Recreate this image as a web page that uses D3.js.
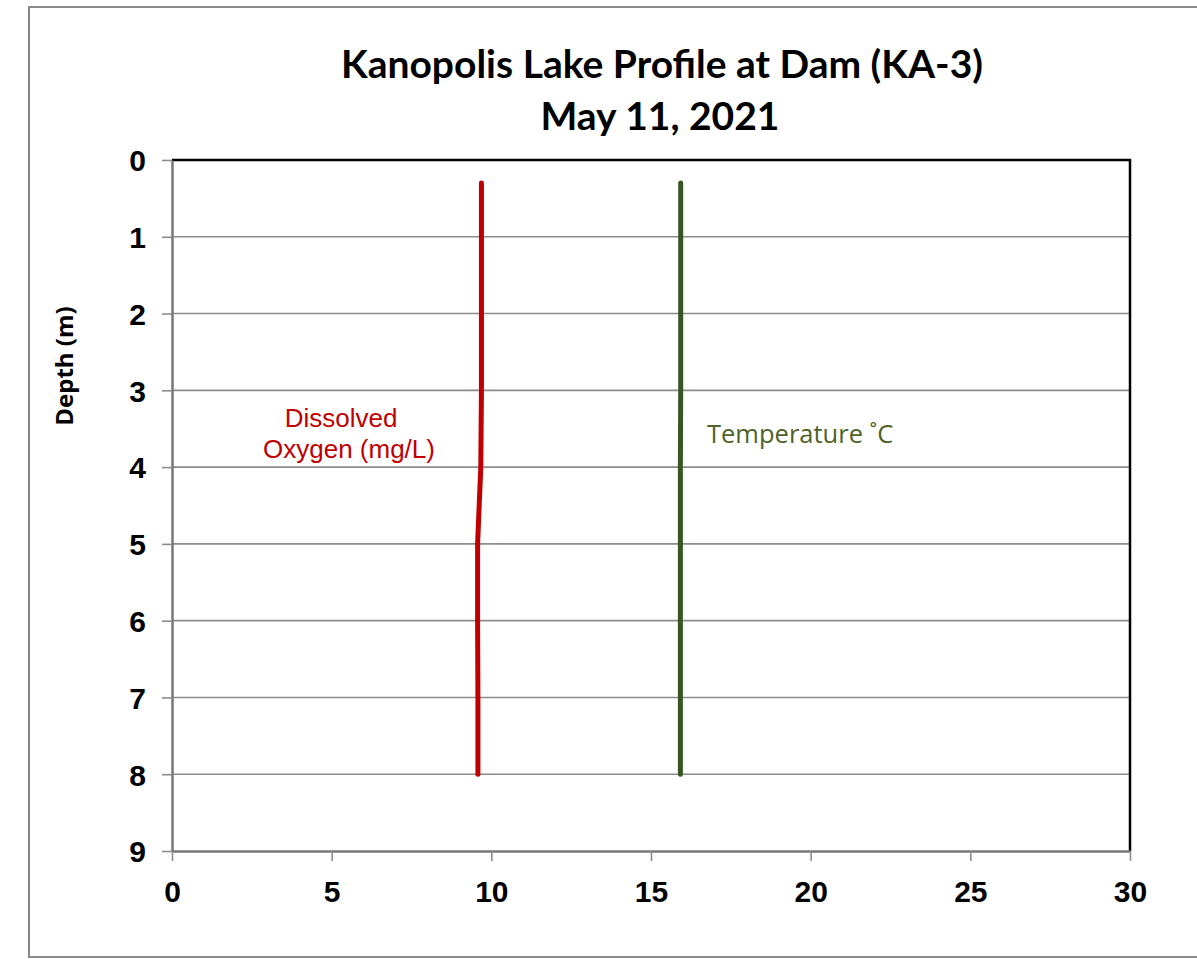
<!DOCTYPE html>
<html>
<head>
<meta charset="utf-8">
<script src="https://cdn.jsdelivr.net/npm/d3@7"></script>
<style>
  body { margin: 0; background: #fff; }
  svg { display: block; }
</style>
</head>
<body>
<div id="chart"></div>
<script>
// depth profile readings
const depths = [0.3, 1, 2, 3, 4, 5, 6, 7, 8]
const dissolvedOxygen = [9.69, 9.69, 9.69, 9.69, 9.67, 9.57, 9.57, 9.58, 9.58]
const temperature = [15.93, 15.93, 15.93, 15.93, 15.92, 15.92, 15.92, 15.92, 15.92]
const xTicks = [0, 5, 10, 15, 20, 25, 30]
const yTicks = [0, 1, 2, 3, 4, 5, 6, 7, 8, 9]

let margin = { top: 160, left: 172, right: 67, bottom: 108 }
let width = 1197 - margin.left - margin.right
let height = 959 - margin.top - margin.bottom

let svg = d3
  .select('#chart')
  .append('svg')
  .attr('width', 1197)
  .attr('height', 959)

// outer chart border
svg.append('rect')
  .attr('x', 29)
  .attr('y', 7)
  .attr('width', 1200)
  .attr('height', 950)
  .attr('fill', 'white')
  .attr('stroke', '#898989')
  .attr('stroke-width', 2)

// title
svg.append('text')
  .attr('x', 662)
  .attr('y', 78)
  .attr('text-anchor', 'middle')
  .attr('font-family', 'Lato, sans-serif')
  .attr('font-weight', 700)
  .attr('font-size', 39)
  .text('Kanopolis Lake Profile at Dam (KA-3)')

svg.append('text')
  .attr('x', 660)
  .attr('y', 130)
  .attr('text-anchor', 'middle')
  .attr('font-family', 'Lato, sans-serif')
  .attr('font-weight', 700)
  .attr('font-size', 39)
  .text('May 11, 2021')

let g = svg.append('g')
  .attr('transform', 'translate(' + margin.left + ',' + margin.top + ')')

const xScale = d3.scaleLinear().domain([0, 30]).range([0, width])
const yScale = d3.scaleLinear().domain([0, 9]).range([0, height])

// gridlines
g.selectAll('.grid')
  .data(yTicks.filter(d => d > 0 && d < 9))
  .enter()
  .append('line')
  .attr('class', 'grid')
  .attr('x1', 0)
  .attr('x2', width)
  .attr('y1', d => yScale(d))
  .attr('y2', d => yScale(d))
  .attr('stroke', '#8c8c8c')
  .attr('stroke-width', 1.6)

// top and right frame
g.append('path')
  .attr('d', `M0,0H${width}V${height}`)
  .attr('fill', 'none')
  .attr('stroke', '#000')
  .attr('stroke-width', 2.5)

const yAxis = d3.axisLeft(yScale)
  .tickValues(yTicks)
  .tickFormat(d3.format('d'))
  .tickSize(10)
  .tickSizeOuter(0)
  .tickPadding(16)

const xAxis = d3.axisBottom(xScale)
  .tickValues(xTicks)
  .tickFormat(d3.format('d'))
  .tickSize(10)
  .tickSizeOuter(0)
  .tickPadding(20)

let yG = g.append('g').call(yAxis)
let xG = g.append('g').attr('transform', `translate(0,${height})`).call(xAxis)

;[xG, yG].forEach(a => {
  a.select('.domain').attr('stroke', '#777').attr('stroke-width', 2.5)
  a.selectAll('.tick line').attr('stroke', '#8c8c8c').attr('stroke-width', 1.6)
  a.selectAll('.tick text')
    .attr('fill', '#000')
    .attr('font-family', 'Liberation Sans, Arial, sans-serif')
    .attr('font-weight', 700)
    .attr('font-size', 30)
})
yG.selectAll('.tick text').attr('dy', '0.36em')

// y axis title
svg.append('text')
  .attr('transform', 'translate(73,366) rotate(-90)')
  .attr('text-anchor', 'middle')
  .attr('font-family', 'Open Sans, sans-serif')
  .attr('font-weight', 700)
  .attr('font-size', 24)
  .text('Depth (m)')

// profile lines
const series = [
  { name: 'do', values: dissolvedOxygen, color: '#c00000' },
  { name: 'temp', values: temperature, color: '#375623' }
]

const line = d3.line()
  .x(d => xScale(d[1]))
  .y(d => yScale(d[0]))

g.selectAll('.profile')
  .data(series)
  .enter()
  .append('path')
  .attr('class', 'profile')
  .attr('d', d => line(depths.map((dep, i) => [dep, d.values[i]])))
  .attr('fill', 'none')
  .attr('stroke', d => d.color)
  .attr('stroke-width', 5)
  .attr('stroke-linecap', 'round')
  .attr('stroke-linejoin', 'round')

// line labels
let doLabel = svg.append('text')
  .attr('text-anchor', 'middle')
  .attr('font-family', 'Liberation Sans, Arial, sans-serif')
  .attr('font-size', 26)
  .attr('fill', '#c00000')
doLabel.append('tspan').attr('x', 341).attr('y', 427).text('Dissolved')
doLabel.append('tspan').attr('x', 349).attr('y', 458).text('Oxygen (mg/L)')

svg.append('text')
  .attr('x', 707)
  .attr('y', 443)
  .attr('font-family', 'Open Sans, sans-serif')
  .attr('font-size', 25.5)
  .attr('fill', '#4f6228')
  .text('Temperature ˚C')
</script>
</body>
</html>
